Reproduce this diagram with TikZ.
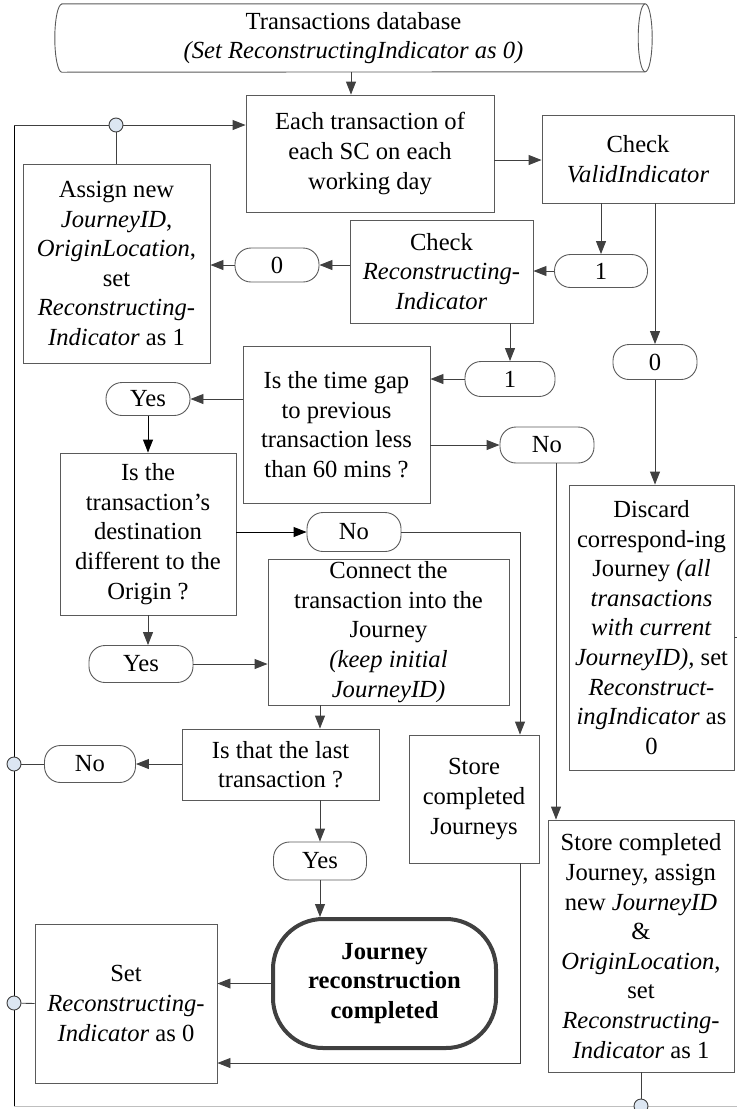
\documentclass[tikz,border=0pt]{standalone}
\usepackage{fontspec}
\setmainfont{Liberation Serif}
\usetikzlibrary{arrows.meta,calc}
\definecolor{edge}{HTML}{5A5A5A}
\definecolor{tip}{HTML}{404040}
\definecolor{dotfill}{HTML}{DCE6F2}
\definecolor{faint}{HTML}{BFBFBF}
\begin{document}
\begin{tikzpicture}[x=1pt,y=-1pt,
  every node/.style={font=\fontsize{24.6}{29.6}\selectfont, inner sep=0pt, align=center},
  box/.style={draw=edge, line width=0.9pt},
  pill/.style={draw=edge, line width=0.9pt, rounded corners=16pt},
  arr/.style={draw=tip, line width=0.9pt, -{Triangle[length=13pt,width=10pt]}},
  arrk/.style={draw=black, line width=0.9pt, -{Triangle[length=13pt,width=10pt]}},
  conn/.style={draw=tip, line width=0.9pt},
  dot/.style={circle, draw=tip, fill=dotfill, line width=0.9pt, minimum size=14pt, inner sep=0pt}]
\useasboundingbox (0,0) rectangle (737,1109);

% data store (horizontal cylinder)
\node[minimum width=583pt, minimum height=68pt] (db) at (353.5,38)
  {Transactions database\\\textit{(Set ReconstructingIndicator as 0)}};
\draw[box] (db.north west) -- (db.north east)
  arc[start angle=-90, end angle=90, x radius=7, y radius=34]
  -- (db.south west)
  arc[start angle=90, end angle=270, x radius=7, y radius=34] -- cycle;
\draw[box] (db.north east) arc[start angle=-90, end angle=-270, x radius=7, y radius=34];

% process boxes
\node[box, minimum width=248pt, minimum height=117pt] (A) at (370,153.5)
  {Each transaction of\\each SC on each\\working day};
\node[box, minimum width=192pt, minimum height=88pt] (B) at (638,159)
  {Check\\\textit{ValidIndicator}};
\node[box, minimum width=187pt, minimum height=199pt] (C) at (116.5,263.5)
  {Assign new\\\textit{JourneyID},\\\textit{OriginLocation},\\set\\\textit{Reconstructing-}\\\textit{Indicator} as 1};
\node[box, minimum width=183pt, minimum height=103pt] (D) at (441.5,271.5)
  {Check\\\textit{Reconstructing-}\\\textit{Indicator}};
\node[box, minimum width=187pt, minimum height=157pt] (E) at (336.5,424.5)
  {Is the time gap\\to previous\\transaction less\\than 60 mins ?};
\node[box, minimum width=176pt, minimum height=162pt] (F) at (148,534)
  {Is the\\transaction’s\\destination\\different to the\\Origin ?};
\node[box, minimum width=165pt, minimum height=285pt] (H) at (651.5,627.5)
  {Discard\\correspond-ing\\Journey \textit{(all}\\\textit{transactions}\\\textit{with current}\\\textit{JourneyID),} set\\\textit{Reconstruct-}\\\textit{ingIndicator} as\\0};
\node[box, minimum width=241pt, minimum height=146pt] (I) at (388.5,632)
  {Connect the\\transaction into the\\Journey\\\textit{(keep initial}\\\textit{JourneyID)}};
\node[box, minimum width=197pt, minimum height=71pt] (J) at (280.5,764.5)
  {Is that the last\\transaction ?};
\node[box, minimum width=130pt, minimum height=128pt] (G1) at (474,799)
  {Store\\completed\\Journeys};
\node[box, minimum width=186pt, minimum height=252pt] (G2) at (641,946)
  {Store completed\\Journey, assign\\new \textit{JourneyID}\\\&\\\textit{OriginLocation},\\set\\\textit{Reconstructing-}\\\textit{Indicator} as 1};
\node[draw=tip, line width=4pt, rounded corners=50pt, minimum width=223pt, minimum height=129pt,
  font=\fontsize{24.6}{29.6}\selectfont\bfseries] (K) at (384.5,983.5)
  {Journey\\reconstruction\\completed};
\node[box, minimum width=182pt, minimum height=159pt] (L) at (126,1003.5)
  {Set\\\textit{Reconstructing-}\\\textit{Indicator} as 0};

% decision outcomes
\node[pill, minimum width=84pt, minimum height=34pt] (p0a) at (277,265) {0};
\node[pill, minimum width=93pt, minimum height=33pt] (p1a) at (601,271) {1};
\node[pill, minimum width=84pt, minimum height=35pt] (p0b) at (655,362) {0};
\node[pill, minimum width=90pt, minimum height=35pt] (p1b) at (510,379) {1};
\node[pill, minimum width=84pt, minimum height=33pt] (yes1) at (148,399) {Yes};
\node[pill, minimum width=94pt, minimum height=36pt] (no1) at (547,445) {No};
\node[pill, minimum width=94pt, minimum height=39pt] (no2) at (354,532) {No};
\node[pill, minimum width=104pt, minimum height=37pt] (yes2) at (141,664) {Yes};
\node[pill, minimum width=91pt, minimum height=37pt] (no3) at (90,764) {No};
\node[pill, minimum width=93pt, minimum height=38pt] (yes3) at (320,861) {Yes};

% loop-back line
\coordinate (tl) at (14,125);
\coordinate (bl) at (14,1106);
\coordinate (br) at (737,1106);
\draw[conn, draw=black] (tl) -- (bl);
\draw[line width=0.9pt, draw=faint] (bl) -- (br);
\draw[arr] (tl) -- (tl -| A.west);

% connectors
\coordinate (dbout) at ($(db.south)+(-2.5,0)$);
\draw[arr] (dbout) -- (dbout |- A.north);
\coordinate (aout) at ($(A.east)+(0,6.5)$);
\draw[arr] (aout) -- (aout -| B.west);
\draw[arr] (B.south -| p1a.north) -- (p1a.north);
\draw[arr] (B.south -| p0b.north) -- (p0b.north);
\draw[arr] (p1a.west) -- (p1a.west -| D.east);
\draw[arr] (D.west |- p0a.east) -- (p0a.east);
\draw[arr] (p0a.west) -- (p0a.west -| C.east);
\draw[arr] (D.south -| p1b.north) -- (p1b.north);
\draw[arr] (p1b.west) -- (p1b.west -| E.east);
\draw[arr] (E.west |- yes1.east) -- (yes1.east);
\draw[arrk] (yes1.south) -- (yes1.south |- F.north);
\draw[arr] (E.east |- no1.west) -- (no1.west);
\coordinate (n1) at ($(no1.south)+(9,0)$);
\draw[arr] (n1) -- (n1 |- G2.north);
\draw[arr] (p0b.south) -- (p0b.south |- H.north);
\draw[arrk] (F.east |- no2.west) -- (no2.west);
\draw[arr] (no2.east) -| ($(G1.north)+(46,0)$);
\draw[arr] (F.south) -- (F.south |- yes2.north);
\draw[arr] (yes2.east) -- (yes2.east -| I.west);
\draw[arr] (I.south -| yes3.north) -- (J.north -| yes3.north);
\draw[arr] (J.west |- no3.east) -- (no3.east);
\draw[arr] (J.south -| yes3.north) -- (yes3.north);
\draw[arr] (yes3.south) -- (yes3.south |- K.north);
\draw[arr] (K.west) -- (K.west -| L.east);
\draw[arr] ($(G1.south)+(46,0)$) |- ($(L.east)+(0,59.5)$);
\draw[conn] ($(H.east)+(0,9.5)$) -- ++(3,0);

% junction dots
\node[dot] (d1) at (116,125) {};
\node[dot] (d2) at (14,764) {};
\node[dot] (d3) at (14,1003) {};
\node[dot] (d4) at (641,1106) {};
\draw[conn] (d1) -- (d1 |- C.north);
\draw[conn] (no3.west) -- (d2);
\draw[conn] (L.west) -- (d3);
\draw[conn] (G2.south) -- (d4);
\end{tikzpicture}
\end{document}
